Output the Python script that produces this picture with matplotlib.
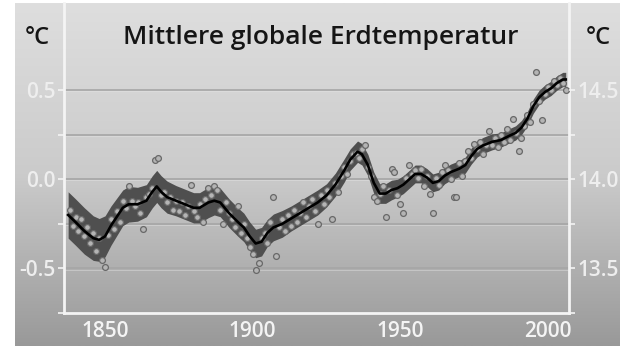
import numpy as np
import matplotlib
matplotlib.use("Agg")
import matplotlib.pyplot as plt
from matplotlib.colors import LinearSegmentedColormap

# ---- data ----
smooth_years = [1837.5, 1840, 1843, 1846, 1848, 1850, 1852, 1854, 1856, 1858, 1861, 1864,
                1866, 1867.5, 1869, 1871, 1874, 1877, 1880, 1882, 1885, 1887, 1889, 1892,
                1895, 1897, 1899, 1901, 1903, 1905, 1907, 1910, 1913, 1916, 1919, 1922,
                1925, 1928, 1931, 1933, 1935.5, 1937, 1939, 1941, 1943, 1945, 1947, 1949,
                1951, 1953, 1955, 1957, 1959, 1961, 1963, 1965, 1967, 1970, 1972, 1974,
                1976, 1978, 1981, 1984, 1987, 1989, 1991, 1993, 1995, 1997, 1999, 2001,
                2003, 2005, 2006]
smooth_vals = [-0.20, -0.24, -0.29, -0.33, -0.34, -0.32, -0.26, -0.21, -0.16, -0.14, -0.14, -0.12,
               -0.07, -0.04, -0.07, -0.10, -0.12, -0.14, -0.16, -0.16, -0.13, -0.12, -0.13, -0.19,
               -0.24, -0.27, -0.32, -0.36, -0.35, -0.30, -0.27, -0.25, -0.22, -0.19, -0.16, -0.13,
               -0.09, -0.03, 0.05, 0.11, 0.155, 0.14, 0.08, -0.02, -0.08, -0.08, -0.06, -0.05,
               -0.03, 0.00, 0.03, 0.03, 0.01, -0.02, -0.01, 0.02, 0.04, 0.06, 0.08, 0.13,
               0.17, 0.19, 0.21, 0.22, 0.245, 0.26, 0.29, 0.34, 0.41, 0.46, 0.49, 0.51,
               0.54, 0.56, 0.56]
band_half = [0.13, 0.13, 0.13, 0.125, 0.12, 0.115, 0.11, 0.105, 0.10, 0.10, 0.095, 0.09,
             0.09, 0.09, 0.09, 0.09, 0.085, 0.085, 0.085, 0.085, 0.085, 0.08, 0.08, 0.08,
             0.08, 0.08, 0.08, 0.08, 0.08, 0.075, 0.075, 0.075, 0.07, 0.07, 0.07, 0.07,
             0.065, 0.065, 0.065, 0.06, 0.06, 0.06, 0.06, 0.06, 0.055, 0.055, 0.055, 0.05,
             0.05, 0.05, 0.05, 0.05, 0.05, 0.05, 0.05, 0.045, 0.045, 0.045, 0.045, 0.045,
             0.045, 0.045, 0.045, 0.04, 0.04, 0.04, 0.04, 0.04, 0.04, 0.04, 0.04, 0.04,
             0.04, 0.04, 0.04]

years = list(range(1838, 2007))
annual = [-0.17, -0.26, -0.21, -0.29, -0.22, -0.32, -0.27, -0.36, -0.30, -0.40,
          -0.33, -0.45, -0.49, -0.31, -0.22, -0.28, -0.18, -0.24, -0.12, -0.16,
          -0.04, -0.12, -0.15, -0.13, -0.19, -0.28, -0.10, -0.08, -0.05, 0.11,
          0.12, -0.09, -0.07, -0.13, -0.10, -0.17, -0.12, -0.18, -0.13, -0.20,
          -0.15, -0.03, -0.18, -0.21, -0.14, -0.24, -0.11, -0.05, -0.09, -0.04,
          -0.06, -0.17, -0.25, -0.13, -0.19, -0.22, -0.27, -0.15, -0.30, -0.25,
          -0.33, -0.38, -0.42, -0.51, -0.47, -0.33, -0.30, -0.36, -0.24, -0.10,
          -0.43, -0.27, -0.22, -0.29, -0.20, -0.26, -0.17, -0.24, -0.19, -0.13,
          -0.21, -0.15, -0.11, -0.18, -0.25, -0.09, -0.14, -0.06, -0.10, -0.22,
          -0.02, -0.07, 0.02, 0.07, 0.03, 0.10, 0.14, 0.15, 0.12, 0.17,
          0.19, 0.07, 0.02, -0.10, -0.12, -0.08, -0.04, -0.21, -0.06, 0.06,
          0.04, -0.09, -0.14, -0.19, 0.01, 0.08, 0.03, 0.05, 0.01, 0.06,
          -0.04, 0.02, -0.08, -0.19, 0.01, -0.03, 0.04, 0.08, 0.05, 0.00,
          -0.10, -0.10, 0.09, 0.02, 0.10, 0.16, 0.12, 0.20, 0.17, 0.21,
          0.14, 0.19, 0.27, 0.19, 0.23, 0.18, 0.25, 0.21, 0.28, 0.22,
          0.34, 0.26, 0.16, 0.23, 0.30, 0.36, 0.32, 0.42, 0.60, 0.44,
          0.33, 0.48, 0.52, 0.50, 0.55, 0.53, 0.57, 0.54, 0.50]

x_ticks = [1850, 1900, 1950, 2000]
left_ticks = [-0.5, 0.0, 0.5]
left_labels = ["-0.5", "0.0", "0.5"]
right_labels = ["13.5", "14.0", "14.5"]
minor_ticks = [-0.75, -0.25, 0.25]
title = "Mittlere globale Erdtemperatur"
unit = "°C"

FONT = ["Open Sans", "DejaVu Sans"]
plt.rcParams["font.family"] = FONT

W, H = 628, 347
fig = plt.figure(figsize=(W / 100, H / 100), dpi=100)
fig.patch.set_facecolor("white")

# gray gradient background panel
bg = fig.add_axes([15 / W, 1 / H, 605 / W, 343 / H])
grad = np.linspace(0, 1, 256).reshape(-1, 1)
cmap = LinearSegmentedColormap.from_list("g", ["#dedede", "#cbcbcb", "#999999"])
bg.imshow(grad, aspect="auto", cmap=cmap, extent=[0, 1, 0, 1], origin="upper")
bg.set_axis_off()

ax = fig.add_axes([64 / W, 34 / H, 505 / W, 310 / H])
ax.patch.set_alpha(0)
ax.set_xlim(1836.1, 2007.1)
ax.set_ylim(-0.733, 0.989)

for v in minor_ticks + left_ticks:
    ax.axhline(v, color="#a6a6a6", lw=1.2, zorder=1)
    ax.axhline(v - 0.006, color="#e6e6e6", lw=0.6, alpha=0.5, zorder=1)

lo = [s - b for s, b in zip(smooth_vals, band_half)]
hi = [s + b for s, b in zip(smooth_vals, band_half)]
ax.fill_between(smooth_years, lo, hi, color="#4f4f4f", lw=0, zorder=2)
ax.plot(years, annual, "o", ms=4.2, mfc="#b4b4b4", mec="#686868", mew=0.9, zorder=3)
ax.plot(smooth_years, smooth_vals, color="black", lw=1.9, zorder=4,
        solid_joinstyle="round")

ax.spines["top"].set_visible(False)
for s in ["left", "right", "bottom"]:
    ax.spines[s].set_color("#f4f4f4")
    ax.spines[s].set_linewidth(2)

ax.set_xticks(x_ticks)
ax.set_xticklabels([str(t) for t in x_ticks], fontweight="semibold")
ax.tick_params(axis="x", length=0, pad=6, labelsize=15, labelcolor="#f4f4f4")

ax.set_yticks(left_ticks + minor_ticks)
ax.set_yticklabels(left_labels + [""] * len(minor_ticks), fontweight="semibold")
ax.tick_params(axis="y", length=4, width=1.2, color="#f4f4f4", pad=2,
               labelsize=15, labelcolor="#eeeeee", direction="out")

axr = ax.twinx()
axr.set_ylim(ax.get_ylim())
axr.set_yticks(left_ticks + minor_ticks)
axr.set_yticklabels(right_labels + [""] * len(minor_ticks), fontweight="semibold")
axr.tick_params(axis="y", length=4, width=1.2, color="#f4f4f4", pad=2,
                labelsize=15, labelcolor="#eeeeee", direction="out")
for s in ["top", "left", "bottom", "right"]:
    axr.spines[s].set_visible(False)

fig.text(321 / W, 1 - 38 / H, title, ha="center", va="center", fontsize=19,
         color="#151515", fontweight="semibold")
fig.text(37 / W, 1 - 38 / H, unit, ha="center", va="center", fontsize=17,
         color="#151515", fontweight="semibold")
fig.text(598 / W, 1 - 38 / H, unit, ha="center", va="center", fontsize=17,
         color="#151515", fontweight="semibold")

fig.savefig("out.png", dpi=100, facecolor="white")
